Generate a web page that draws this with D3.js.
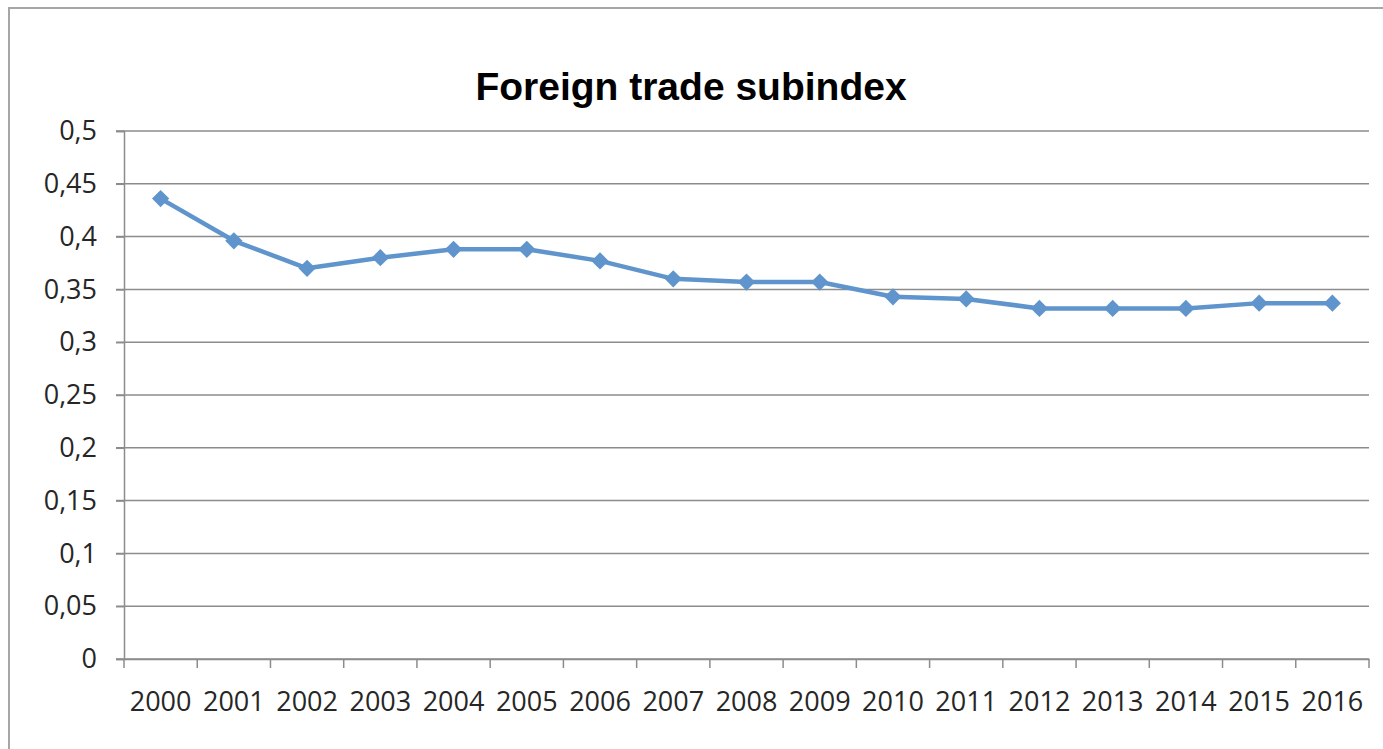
<!DOCTYPE html>
<html>
<head>
<meta charset="utf-8">
<script src="https://cdn.jsdelivr.net/npm/d3@7"></script>
<style>
  body { margin: 0; background: #fff; }
  svg { display: block; }
</style>
</head>
<body>
<script>
  // data
  const years = ["2000", "2001", "2002", "2003", "2004", "2005", "2006", "2007", "2008",
    "2009", "2010", "2011", "2012", "2013", "2014", "2015", "2016"];
  const values = [0.436, 0.396, 0.370, 0.380, 0.388, 0.388, 0.377, 0.360, 0.357,
    0.357, 0.343, 0.341, 0.332, 0.332, 0.332, 0.337, 0.337];
  const yTicks = [0, 0.05, 0.1, 0.15, 0.2, 0.25, 0.3, 0.35, 0.4, 0.45, 0.5];
  const title = "Foreign trade subindex";

  const W = 1383, H = 749;
  const pLeft = 124, pRight = 1369, pTop = 131, pBottom = 659;
  const gridCol = "#8c8c8c", lineCol = "#5f95cc";

  const svg = d3.select("body").append("svg")
    .attr("width", W)
    .attr("height", H);

  // chart frame (only top and left edges are in view)
  svg.append("path")
    .attr("d", "M9," + H + "V8H" + W)
    .attr("fill", "none")
    .attr("stroke", "#a6a6a6")
    .attr("stroke-width", 2);

  svg.append("text")
    .attr("x", 691)
    .attr("y", 100)
    .attr("text-anchor", "middle")
    .style("font-family", "'Liberation Sans', Arial, sans-serif")
    .style("font-weight", "bold")
    .style("font-size", "39px")
    .text(title);

  const x = d3.scaleBand().domain(years).range([pLeft, pRight]);
  const y = d3.scaleLinear().domain([0, 0.5]).range([pBottom, pTop]);
  const fmt = d => String(d).replace(".", ",");

  // gridlines
  svg.append("g")
    .selectAll("line")
    .data(yTicks)
    .join("line")
    .attr("x1", pLeft - 8)
    .attr("x2", pRight)
    .attr("y1", d => y(d))
    .attr("y2", d => y(d))
    .attr("stroke", gridCol)
    .attr("stroke-width", 1.5);

  // y axis
  const yAxis = svg.append("g")
    .attr("transform", "translate(" + pLeft + ",0)")
    .call(d3.axisLeft(y).tickValues(yTicks).tickFormat(fmt).tickSize(8).tickPadding(19));
  yAxis.select(".domain").attr("stroke", gridCol).attr("stroke-width", 1.5);
  yAxis.selectAll(".tick line").attr("stroke", gridCol).attr("stroke-width", 1.5);

  // x axis: ticks sit between categories
  const bounds = d3.range(years.length + 1).map(i => pLeft + i * x.step());
  svg.append("g")
    .selectAll("line")
    .data(bounds)
    .join("line")
    .attr("x1", d => d)
    .attr("x2", d => d)
    .attr("y1", pBottom)
    .attr("y2", pBottom + 9)
    .attr("stroke", gridCol)
    .attr("stroke-width", 1.5);
  const xAxis = svg.append("g")
    .attr("transform", "translate(0," + pBottom + ")")
    .call(d3.axisBottom(x).tickSize(0).tickPadding(33));
  xAxis.select(".domain").attr("stroke", gridCol).attr("stroke-width", 1.5);

  svg.selectAll(".tick text")
    .attr("fill", "#262626")
    .style("font-family", "'Open Sans', sans-serif")
    .style("font-size", "27px");

  // series
  const cx = (d, i) => x(years[i]) + x.bandwidth() / 2;
  svg.append("path")
    .datum(values)
    .attr("fill", "none")
    .attr("stroke", lineCol)
    .attr("stroke-width", 4.5)
    .attr("stroke-linejoin", "round")
    .attr("d", d3.line().x(cx).y(d => y(d)));

  svg.append("g")
    .selectAll("path")
    .data(values)
    .join("path")
    .attr("transform", (d, i) => "translate(" + cx(d, i) + "," + y(d) + ")")
    .attr("d", d3.symbol(d3.symbolDiamond2, 190))
    .attr("fill", lineCol);
</script>
</body>
</html>
